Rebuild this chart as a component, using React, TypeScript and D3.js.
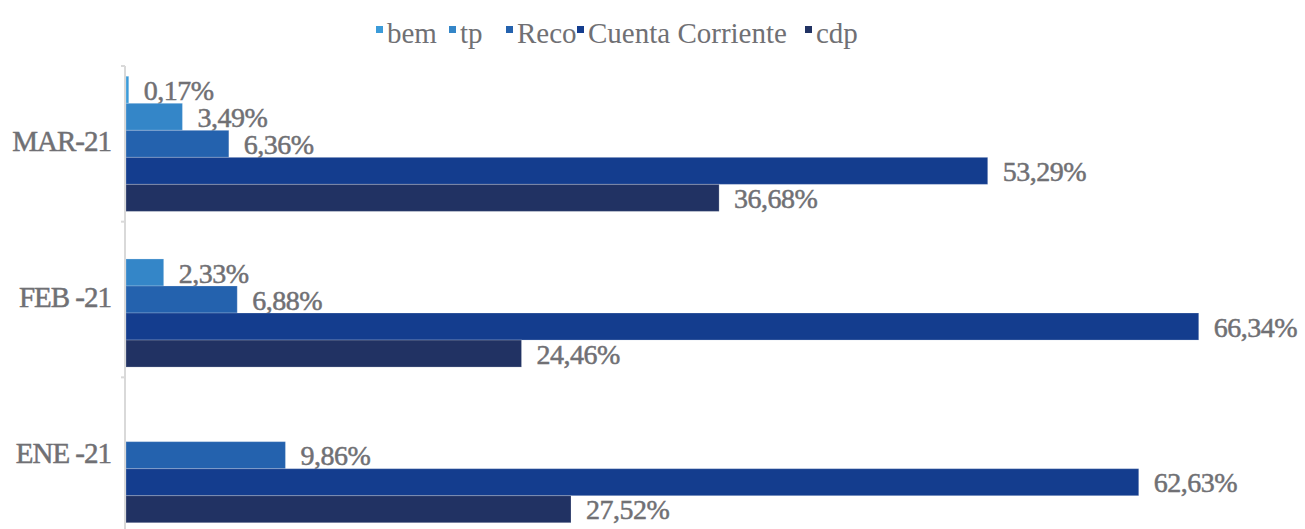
import * as d3 from 'd3';
import React from 'react';

const categories = ['MAR-21', 'FEB -21', 'ENE -21'];
const seriesNames = ['bem', 'tp', 'Reco', 'Cuenta Corriente', 'cdp'];
const bem = [0.17, null, null];
const tp = [3.49, 2.33, null];
const reco = [6.36, 6.88, 9.86];
const cuentaCorriente = [53.29, 66.34, 62.63];
const cdp = [36.68, 24.46, 27.52];

const colors = ['#3b9bd9', '#3486c8', '#2462ae', '#143d8e', '#213263'];
const legendX = [376, 449, 506, 577, 805];

const W = 1305;
const H = 529;
const serif = "'Liberation Serif'";
const textColor = '#707074';

const App = () => {
  const series = [bem, tp, reco, cuentaCorriente, cdp];
  const x = d3.scaleLinear().domain([0, 70]).range([126, 126 + 70 * 16.17]);
  const y = d3.scaleBand().domain(categories).range([66, 533]).padding(0);
  const inner = d3
    .scaleBand()
    .domain(seriesNames)
    .range([0, y.bandwidth()])
    .paddingInner(0)
    .paddingOuter(0.38);
  const fmt = (v: number) => v.toFixed(2).replace('.', ',') + '%';
  const ticks = [...categories.map((c) => y(c) as number), 533];

  return (
    <svg width={W} height={H} style={{ position: 'absolute', left: 0, top: 0 }}>
      <rect width={W} height={H} fill='#ffffff' />
      {/* legend */}
      {seriesNames.map((name, i) => (
        <g key={name}>
          <rect x={legendX[i]} y={26} width={7} height={7} fill={colors[i]} />
          <text x={legendX[i] + 11} y={43} fontFamily={serif} fontSize={29} fill={textColor}>
            {name}
          </text>
        </g>
      ))}
      {/* bars */}
      {categories.map((cat, ci) => (
        <g key={cat} transform={`translate(0,${y(cat)})`}>
          {series.map((vals, si) => {
            const v = vals[ci];
            if (v == null) return null;
            const by = inner(seriesNames[si]) as number;
            const bh = inner.bandwidth();
            return (
              <g key={si}>
                <rect
                  x={x(0)}
                  y={by}
                  width={x(v) - x(0)}
                  height={bh}
                  fill={colors[si]}
                  stroke='rgba(255,255,255,0.22)'
                  strokeWidth={1}
                />
                <text
                  x={x(v) + 15}
                  y={by + bh / 2}
                  dy='0.36em'
                  fontFamily={serif}
                  fontSize={28}
                  letterSpacing={-0.5}
                  stroke={textColor}
                  strokeWidth={0.5}
                  fill={textColor}
                >
                  {fmt(v)}
                </text>
              </g>
            );
          })}
          <text
            x={111}
            y={y.bandwidth() / 2 - 3}
            dy='0.36em'
            textAnchor='end'
            fontFamily={serif}
            fontSize={29}
            letterSpacing={-1}
            stroke={textColor}
            strokeWidth={0.5}
            fill={textColor}
          >
            {cat}
          </text>
        </g>
      ))}
      {/* axis */}
      <line x1={125} x2={125} y1={66} y2={H} stroke='#d9d9d9' strokeWidth={2} />
      {ticks.map((t, i) => (
        <line key={i} x1={121} x2={125} y1={t} y2={t} stroke='#d9d9d9' strokeWidth={2} />
      ))}
    </svg>
  );
};

export default App;
